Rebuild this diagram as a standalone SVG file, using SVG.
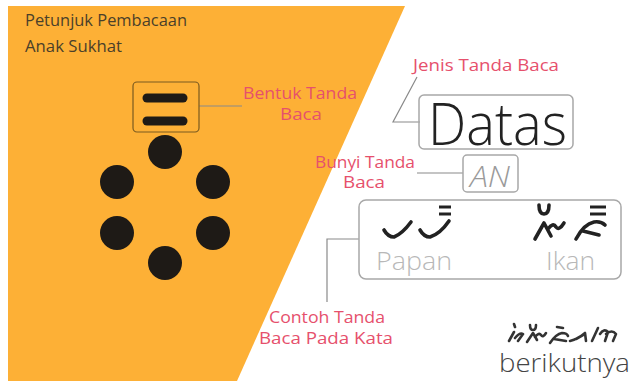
<svg xmlns="http://www.w3.org/2000/svg" width="630" height="381" viewBox="0 0 630 381">
<style>
.lbl{font-family:"Open Sans","Noto Sans","Liberation Sans",sans-serif;font-size:16.5px;fill:#E6506C}
.ttl{font-family:"Open Sans","Noto Sans","Liberation Sans",sans-serif;font-size:15.5px;fill:#4a3f2a}
.conn{fill:none;stroke:#8a8a8a;stroke-width:1.2}
.box{fill:none;stroke:#a8a8a8;stroke-width:1.5}
.gly{fill:none;stroke:#222;stroke-width:3.6;stroke-linecap:round;stroke-linejoin:round}
.gl2{fill:none;stroke:#333;stroke-width:2.6;stroke-linecap:round;stroke-linejoin:round}
.dot{fill:#1e1a16}
.big{font-family:"Open Sans","Noto Sans","Liberation Sans",sans-serif;font-weight:300}
</style>
<rect width="630" height="381" fill="#ffffff"/>
<polygon points="8,6 405,6 237,381 8,381" fill="#FDB036"/>
<g id="title">
<text class="ttl" x="25" y="26" textLength="162" lengthAdjust="spacingAndGlyphs">Petunjuk Pembacaan</text>
<text class="ttl" x="25" y="52" textLength="97" lengthAdjust="spacingAndGlyphs">Anak Sukhat</text>
</g>
<g id="connectors">
<line class="conn" x1="199" y1="106" x2="242" y2="106" stroke="#8a6a2a"/>
<polyline class="conn" points="417,77 393,122 420,122"/>
<polyline class="conn" points="417,173 463,173"/>
<polyline class="conn" points="359,239 327,239 327,302"/>
</g>
<g id="bentuk">
<rect x="133" y="82" width="66" height="50" rx="4" fill="none" stroke="#7a5a20" stroke-width="1.2"/>
<line x1="147" y1="98" x2="183" y2="98" stroke="#1e1a16" stroke-width="9" stroke-linecap="round"/>
<line x1="147" y1="121" x2="183" y2="121" stroke="#1e1a16" stroke-width="9" stroke-linecap="round"/>
<text class="lbl" x="243" y="99" textLength="114" lengthAdjust="spacingAndGlyphs">Bentuk Tanda</text>
<text class="lbl" x="280" y="120" textLength="42" lengthAdjust="spacingAndGlyphs">Baca</text>
</g>
<g id="dots">
<circle class="dot" cx="165" cy="152" r="17"/>
<circle class="dot" cx="117" cy="182" r="17"/>
<circle class="dot" cx="213" cy="182" r="17"/>
<circle class="dot" cx="117" cy="233" r="17"/>
<circle class="dot" cx="213" cy="233" r="17"/>
<circle class="dot" cx="165" cy="263" r="17"/>
</g>
<g id="jenis">
<text class="lbl" x="413" y="71" textLength="146" lengthAdjust="spacingAndGlyphs">Jenis Tanda Baca</text>
<rect class="box" x="419" y="95" width="154" height="54" rx="5"/>
<text class="big" x="428" y="145" font-size="58" fill="#222" textLength="139" lengthAdjust="spacingAndGlyphs">Datas</text>
</g>
<g id="bunyi">
<text class="lbl" x="315" y="168" textLength="100" lengthAdjust="spacingAndGlyphs">Bunyi Tanda</text>
<text class="lbl" x="343" y="188" textLength="42" lengthAdjust="spacingAndGlyphs">Baca</text>
<rect class="box" x="463" y="155" width="55" height="37" rx="4"/>
<text class="big" x="470" y="187" font-size="29" font-style="italic" fill="#9a9a9a" textLength="40" lengthAdjust="spacingAndGlyphs">AN</text>
</g>
<g id="contoh">
<rect class="box" x="359" y="200" width="262" height="79" rx="7"/>
<path class="gly" d="M384,230 Q388,237 394,237 Q402,234 411,222"/>
<path class="gly" d="M420,230 Q424,237 430,237 Q440,234 449,221"/>
<line x1="439" y1="207" x2="451" y2="207" stroke="#222" stroke-width="3"/>
<line x1="439" y1="214" x2="451" y2="214" stroke="#222" stroke-width="3"/>
<path class="gly" d="M539,205 Q539,214 544,214 Q549,214 549,205"/>
<path class="gly" d="M535,239 L544,223 L551,236 M548,229 Q553,222 556,227 Q559,231 564,223"/>
<path class="gly" d="M576,239 Q584,224 594,222 Q601,221 605,225 M583,231 L599,235"/>
<line x1="590" y1="207" x2="606" y2="207" stroke="#222" stroke-width="3"/>
<line x1="590" y1="214" x2="606" y2="214" stroke="#222" stroke-width="3"/>
<text class="big" x="376" y="270" font-size="26" fill="#b8b8b8" textLength="76" lengthAdjust="spacingAndGlyphs">Papan</text>
<text class="big" x="546" y="270" font-size="26" fill="#b8b8b8" textLength="49" lengthAdjust="spacingAndGlyphs">Ikan</text>
<text class="lbl" x="269" y="323" textLength="116" lengthAdjust="spacingAndGlyphs">Contoh Tanda</text>
<text class="lbl" x="259" y="344" textLength="134" lengthAdjust="spacingAndGlyphs">Baca Pada Kata</text>
</g>
<g id="berikutnya">
<path class="gl2" d="M514,324 L515,327 M509,341 L514,332 M515,338 Q520,332 523,334 L518,341"/>
<path class="gl2" d="M530,325 Q530,330 533,330 Q536,330 536,325 M527,342 L533,333 L537,340 M535,337 Q539,332 541,335 Q543,338 546,333"/>
<path class="gl2" d="M550,343 Q556,334 562,333 Q567,333 568,336 M554,339 L566,341 M557,327 L563,328"/>
<path class="gl2" d="M570,341 Q578,339 585,333 L586,341 M576,339 L583,335"/>
<path class="gl2" d="M592,341 L598,328 M600,334 Q604,328 608,332 L605,341 M606,334 Q612,329 616,334 L613,341"/>
<text class="big" x="499" y="372" font-size="25" fill="#444" textLength="131" lengthAdjust="spacingAndGlyphs">berikutnya</text>
</g>
</svg>
